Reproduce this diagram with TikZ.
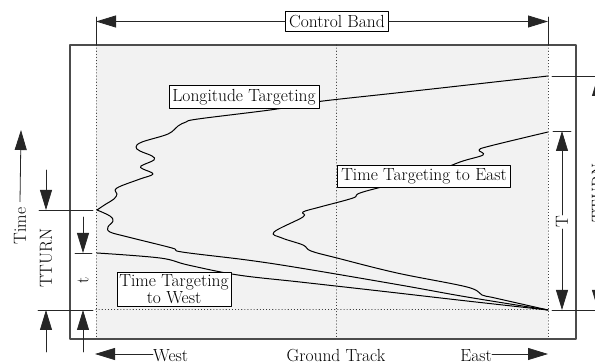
\documentclass[tikz,border=0pt]{standalone}
\usetikzlibrary{arrows.meta}

\begin{document}
\begin{tikzpicture}[x=1pt, y=-1pt, >={Triangle[length=20pt,width=12pt]},
		font=\fontsize{17.5}{20}\selectfont, line join=round, line cap=round,
		lbl/.style={draw=black, fill=white, line width=0.8pt, inner sep=3.5pt},
		dim/.style={draw=black!85, line width=0.8pt},
		guide/.style={draw=black!85, line width=1pt, dash pattern=on 0.1pt off 3pt},
		track/.style={line width=1pt, smooth, tension=0.6}]
	\useasboundingbox (0,0) rectangle (595,363);
	\clip (0,0) rectangle (595,363);
	
	\coordinate (turn) at (97,210);
	\coordinate (arrive) at (548,310);
	\coordinate (westStart) at (97,253);
	\coordinate (eastStart) at (548,132);
	\coordinate (lonEnd) at (548,76);
	
	% band and frame
	\fill[black!5] (96,45) rectangle (548,339);
	\draw[black!70, line width=1.2pt] (70,45) rectangle (576,339);
	\draw[guide] (96,45) -- (96,339);
	\draw[guide] (336,45) -- (336,339);
	\draw[guide] (548,45) -- (548,339);
	\draw[guide] (96,310) -- (548,310);
	\draw[dim] (96,17) -- (96,45);
	\draw[dim] (548,17) -- (548,45);
	
	\node[lbl] (band) at (337,21.5) {Control Band};
	\coordinate (bandW) at (96,21.5);
	\coordinate (bandE) at (548,21.5);
	\draw[dim,->] (band) -- (bandW);
	\draw[dim,->] (band) -- (bandE);
	
	% trajectories
	\draw[track] plot coordinates {(turn) (106,204) (114,199) (117,194) (115,190) (121,186)
		(140,179) (153,174) (143,169) (141,166) (154,160) (152,156) (140,151) (136,147)
		(142,142) (168,134) (178,126) (186,122) (198,119) (270,110) (300,105) (323,101)
		(405,92) (lonEnd)};
	\draw[track] plot coordinates {(turn) (110,216) (113,221) (108,227) (110,232) (128,237)
		(172,248) (182,252) (247,260) (300,268) (400,285) (467,297) (arrive)};
	\draw[track] plot coordinates {(westStart) (160,258) (188,265) (238,275) (300,282)
		(380,291) (467,301) (arrive)};
	\draw[track] plot coordinates {(eastStart) (490,146) (479,150) (483,155) (460,162)
		(424,176) (363,192) (353,198) (320,207) (303,212) (303,217) (274,232) (282,238)
		(303,245) (311,251) (337,258) (397,273) (467,287) (482,295) (495,298) (arrive)};
	
	\node[lbl] (lon) at (244,97) {Longitude Targeting};
	\node[lbl] (toEast) at (424,176.5) {Time Targeting to East};
	\node[lbl, align=center, inner sep=2.5pt] (toWest) at (174,289) {Time Targeting\\[-3pt]to West};
	
	% left dimensions
	\draw[dim] (39,210) -- (93,210);
	\draw[dim] (38,310) -- (93,310);
	\draw[dim] (75,253) -- (92,253);
	\node[rotate=90] (tturnL) at (46,258) {TTURN};
	\draw[dim,->] (46,170) -- (46,210);
	\draw[dim,->] (46,352) -- (46,310);
	\node[rotate=90] (tL) at (83,280) {t};
	\draw[dim,->] (83,217) -- (83,253);
	\draw[dim,->] (83,352) -- (83,310);
	\node[rotate=90, inner sep=2pt, outer sep=4pt] (time) at (20,226) {Time};
	\coordinate (timeTip) at (21,130);
	\draw[dim,->] (time.east) -- (timeTip);
	
	% right dimensions
	\draw[dim] (552,76) -- (612,76);
	\draw[dim] (552,310) -- (612,310);
	\draw[dim] (553,131) -- (571,131);
	\node[rotate=90, fill=white, inner sep=1pt] (tR) at (562,222) {T};
	\draw[dim,->] (tR.east) -- (562,131);
	\draw[dim,->] (tR.west) -- (562,310);
	\node[rotate=90, inner sep=2pt] (tturnR) at (598,193) {TTURN};
	\draw[dim,->] (tturnR.east) -- (598,76);
	\draw[dim,->] (tturnR.west) -- (598,310);
	
	% ground track
	\node[anchor=base] (track) at (336,361.5) {Ground Track};
	\node[anchor=base west, inner sep=0pt] (westLbl) at (153,361.5) {West};
	\node[anchor=base east, inner sep=0pt] (eastLbl) at (492,361.5) {East};
	\coordinate (westTip) at (95,354);
	\coordinate (eastTip) at (548,354);
	\draw[dim,->] (westLbl.west |- westTip) -- (westTip);
	\draw[dim,->] (eastLbl.east |- eastTip) -- (eastTip);
\end{tikzpicture}
\end{document}
